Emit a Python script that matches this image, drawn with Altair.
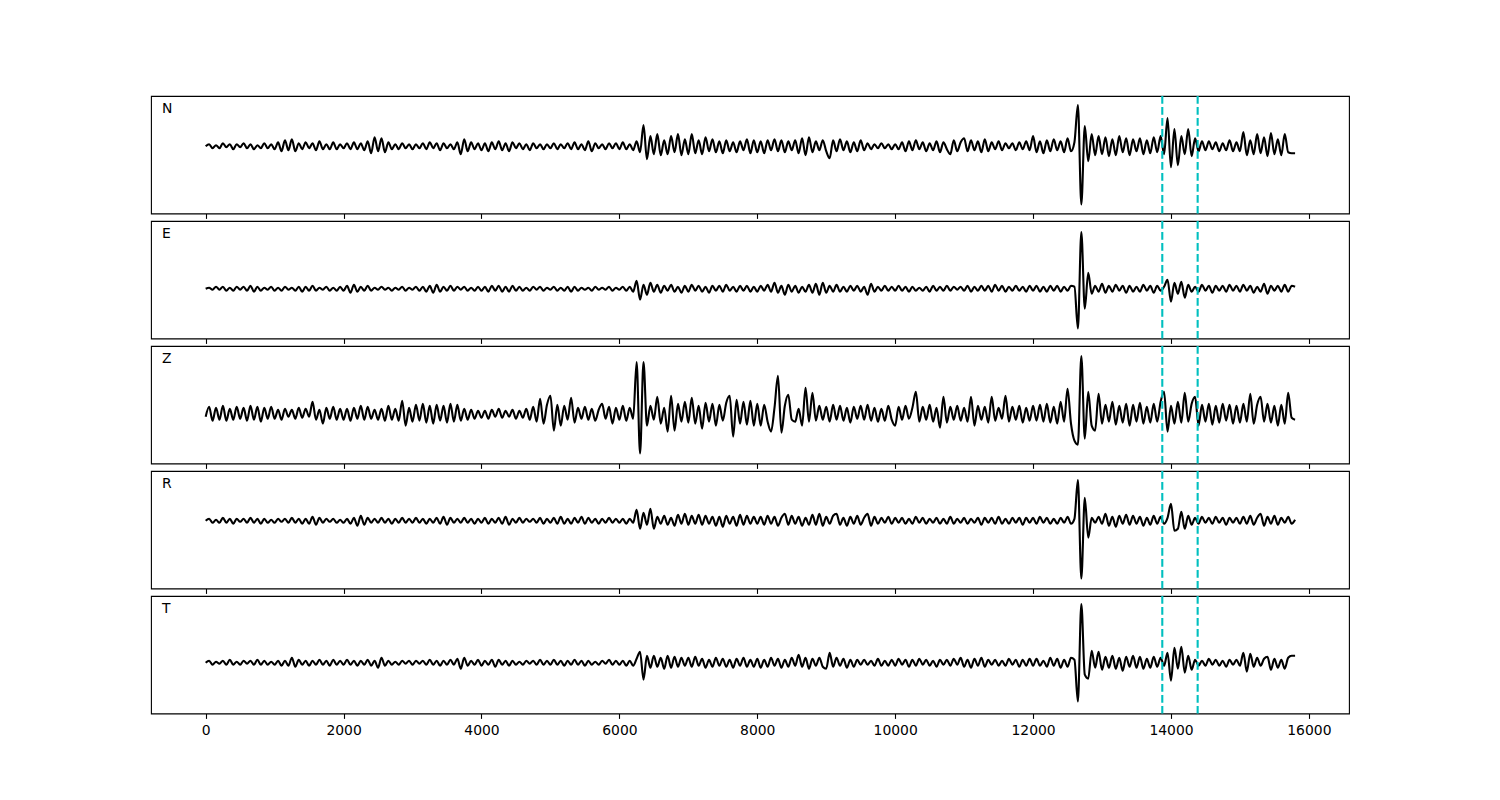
import altair as alt
import pandas as pd

# sampling interval of the traces (time units)
STEP = 50

# amplitudes (pixels-equivalent units, positive up), one row per 1000 time units
N_rows = [
    [0, 2, -2, 1, -2, 3, -1, 2, -3, 2, -1, 3, -2, 2, -3, 1, -2, 3, -2, 2],
    [-3, 4, -5, 6, -4, 7, -5, 3, -3, 4, -2, 3, -4, 5, -3, 2, -3, 4, -3, 2],
    [-2, 3, -3, 4, -3, 3, -4, 5, -7, 9, -5, 8, -6, 4, -3, 2, -3, 3, -2, 2],
    [-3, 2, -2, 3, -3, 4, -2, 3, -4, 3, -2, 2, -3, 4, -8, 7, -5, 4, -3, 3],
    [-4, 3, -5, 4, -3, 5, -4, 3, -5, 4, -2, 3, -3, 2, -4, 3, -2, 2, -3, 2],
    [-2, 3, -3, 2, -2, 3, -3, 4, -3, 2, -4, 5, -5, 3, -2, 2, -3, 3, -2, 3],
    [-3, 4, -3, 2, -4, 5, -6, 21, -13, 10, -8, 12, -9, 6, -8, 10, -6, 12, -9, 7],
    [-8, 12, -7, 6, -8, 9, -5, 7, -6, 5, -7, 6, -5, 4, -6, 5, -4, 7, -7, 6],
    [-6, 5, -7, 6, -4, 7, -5, 6, -6, 5, -4, 6, -7, 8, -9, 9, -6, 5, -4, 6],
    [-5, -12, 6, -5, 7, -4, 5, -6, 4, -5, 6, -4, 3, -3, 2, -2, 3, -2, 2, -3],
    [2, -3, 4, -5, 5, -4, 6, -3, 4, -5, 3, -4, 5, -6, 4, -3, -8, 6, -5, 4],
    [8, -5, 6, -4, 5, -6, 7, -5, 4, -3, 5, -4, 3, -2, 3, -4, 4, -3, 5, -4],
    [10, -6, 5, -7, 6, -5, 7, -4, 5, -6, 8, -5, 4, 41, -58, 20, -15, 12, -9, 10],
    [-8, 9, -10, 7, -9, 10, -6, 8, -9, 7, -5, 8, -8, 6, -7, 9, -6, 10, -8, 28],
    [-21, 17, -19, 10, -8, 17, -10, 8, -5, 5, -4, 5, -3, 4, -5, 3, -4, 6, -5, 4],
    [-5, 14, -9, 6, -8, 12, -7, 9, -10, 13, -8, 7, -9, 12, -6, -7, -7],
]
E_rows = [
    [0, 1, -1, 2, -1, 2, -2, 1, -2, 2, -1, 2, -2, 3, -3, 2, -2, 1, -1, 2],
    [-2, 1, -2, 2, -1, 1, -2, 2, -3, 2, -2, 3, -2, 1, -1, 2, -2, 1, -2, 2],
    [-2, 3, -4, 4, -3, 2, -2, 3, -2, 1, -1, 2, -1, 1, -2, 1, -1, 2, -2, 1],
    [-1, 2, -2, 2, -3, 3, -4, 4, -3, 2, -2, 3, -2, 2, -1, 2, -2, 1, -2, 2],
    [-2, 2, -3, 3, -2, 3, -3, 2, -3, 3, -2, 2, -2, 1, -2, 2, -1, 2, -2, 1],
    [-1, 2, -2, 1, -2, 2, -3, 2, -2, 1, -1, 1, -2, 2, -1, 1, -1, 2, -2, 1],
    [-1, 2, -2, 2, -3, 8, -11, 4, -6, 6, -3, 4, -4, 3, -2, 4, -3, 2, -4, 3],
    [-3, 4, -2, 3, -3, 2, -4, 3, -2, 3, -3, 4, -2, 2, -3, 3, -2, 3, -3, 2],
    [-3, 3, -2, 4, -3, 6, -4, 3, -6, 4, -3, 3, -4, 2, -3, 4, -4, 5, -6, 6],
    [-4, 3, -3, 4, -3, 2, -3, 3, -2, 3, -3, 2, -6, 5, -3, 2, -2, 3, -2, 2],
    [-2, 3, -2, 2, -3, 2, -2, 1, -2, 2, -3, 3, -2, 2, -2, 3, -2, 2, -1, 2],
    [-2, 3, -3, 2, -2, 3, -2, 3, -3, 4, -2, 3, -3, 2, -2, 3, -2, 2, -3, 3],
    [-2, 3, -3, 2, -3, 3, -2, 3, -3, 2, -2, 3, 2, -40, 57, -20, 16, -5, 3, -3],
    [5, -4, 3, -3, 4, -2, 3, -4, 3, -3, 2, -3, 4, -2, 3, -4, 3, -2, 2, 9],
    [-13, 6, -5, 7, -9, 4, -3, 2, -3, 4, -2, 3, -4, 3, -2, 3, -3, 4, -2, 3],
    [-3, 4, -2, 3, -4, 2, -3, 5, -5, 3, -2, 3, -3, 4, -3, 3, 2],
]
Z_rows = [
    [-3, 7, -7, 6, -6, 8, -7, 5, -6, 7, -5, 6, -7, 8, -6, 7, -8, 6, -5, 7],
    [-5, 4, -6, 5, -3, 4, -5, 6, -4, 5, -3, 12, -6, 4, -10, 6, -5, 7, -6, 5],
    [-6, 5, -7, 6, -5, 8, -6, 7, -5, 4, -6, 5, -7, 8, -6, 5, -7, 13, -12, 6],
    [-8, 9, -7, 10, -9, 8, -10, 9, -7, 8, -9, 10, -8, 9, -7, 5, -6, 4, -5, 3],
    [-4, 3, -5, 4, -3, 5, -4, 3, -3, 4, -5, 3, -4, 5, -6, 7, -8, 15, -10, 9],
    [18, -17, 9, -12, 8, -6, 16, -9, 6, -5, 7, -6, 5, -7, 4, 10, -5, 7, -10, 6],
    [-6, 8, -7, 6, -5, 52, -40, 52, -12, 8, -6, 17, -10, 6, -18, 18, -17, 10, -8, 12],
    [-9, 16, -10, 8, -15, 11, -8, 10, -12, 9, -7, 11, 18, -23, 14, -10, 12, -11, 13, -12],
    [10, -12, 9, -8, -18, 6, 38, -19, 8, 19, -6, -8, 5, -12, 26, -8, 21, -7, 8, -6],
    [7, -8, 9, -6, 8, -7, 6, -9, 7, -5, 8, -6, 9, -7, 6, -8, 5, -7, 8, -6],
    [-12, 7, -6, 8, -5, 6, 22, -8, 7, -6, 9, -8, 6, -14, 17, -9, 7, -6, 8, -7],
    [6, -8, 17, -12, 8, -6, 7, -9, 17, -7, 6, -5, 18, -8, 7, -6, 8, -9, 6, -7],
    [8, -7, 9, -8, 10, -9, 7, -10, 12, -8, 25, -10, -27, -31, 58, -25, 22, -12, -17, 20],
    [-10, 9, -8, 12, -11, 8, -9, 10, -12, 9, -8, 11, -10, 7, -9, 10, -8, 12, 22, -18],
    [8, -10, 12, -9, 21, -8, 10, 17, -12, 9, -8, 10, -11, 8, -9, 10, -7, 9, -10, 8],
    [-9, 10, -8, 20, -10, 9, 17, -8, 10, -9, 8, -12, 9, -10, 21, -4, -6],
]
R_rows = [
    [0, 2, -2, 1, -2, 3, -2, 2, -3, 2, -1, 2, -2, 3, -2, 2, -3, 2, -2, 1],
    [-2, 2, -1, 2, -2, 3, -2, 2, -3, 2, -3, 4, -4, 3, -2, 2, -1, 2, -2, 1],
    [-2, 2, -3, 3, -5, 5, -4, 3, -2, 2, -2, 3, -2, 2, -3, 2, -2, 3, -2, 2],
    [-2, 3, -2, 2, -3, 2, -2, 3, -3, 4, -4, 3, -2, 2, -2, 3, -2, 2, -3, 2],
    [-2, 3, -3, 2, -2, 3, -3, 4, -4, 2, -2, 3, -2, 2, -1, 2, -2, 3, -3, 2],
    [-2, 3, -3, 4, -3, 2, -3, 3, -2, 4, -3, 3, -2, 2, -3, 2, -2, 3, -2, 2],
    [-2, 2, -3, 2, -2, 11, -8, 8, -4, 12, -8, 4, -3, 5, -4, 3, -5, 6, -3, 7],
    [-4, 5, -3, 6, -4, 5, -3, 4, -5, 4, -6, 5, -3, 4, -5, 6, -4, 5, -3, 4],
    [-3, 4, -4, 5, -3, 4, -5, 3, 7, -4, 5, -3, 4, -5, 3, -4, 6, -4, 7, -5],
    [4, -3, 5, 7, -4, 3, -5, 4, -3, 5, -4, 3, 7, -5, 4, -3, 3, -2, 4, -3],
    [3, -2, 3, -3, 2, -3, 4, -2, 3, -3, 2, -2, 3, -3, 2, -3, 4, -3, 2, -2],
    [3, -3, 2, -2, 3, -4, 3, -2, 3, -3, 4, -3, 2, -3, 3, -2, 3, -4, 3, -2],
    [3, -3, 4, -2, 3, -3, 2, -3, 3, -2, 4, -3, 2, 41, -58, 23, -17, 3, -2, 4],
    [-3, 7, -5, 4, -6, 5, -3, 6, -4, 5, -3, 4, -5, 3, -4, 5, -3, 4, -3, 3],
    [17, -10, -8, 9, -8, 5, -4, 3, -3, 4, -2, 3, -3, 4, -2, 3, -4, 3, -2, 3],
    [-3, 4, -3, 5, -4, 3, 7, -5, 4, -3, 5, -4, 3, -2, 4, -3, 1],
]
T_rows = [
    [0, 2, -2, 1, -1, 2, -2, 3, -2, 1, -2, 2, -1, 2, -2, 3, -2, 2, -2, 1],
    [-2, 2, -3, 2, -3, 5, -4, 3, -2, 2, -3, 2, -2, 3, -2, 2, -3, 3, -2, 2],
    [-2, 3, -2, 2, -3, 2, -2, 3, -3, 2, -5, 5, -3, 2, -2, 1, -2, 2, -1, 2],
    [-2, 2, -1, 2, -2, 3, -2, 2, -3, 2, -2, 3, -2, 4, -6, 5, -3, 2, -2, 3],
    [-3, 2, -2, 3, -4, 3, -2, 2, -3, 2, -2, 1, -2, 2, -1, 2, -2, 3, -2, 2],
    [-2, 3, -2, 2, -3, 2, -2, 3, -2, 2, -3, 2, -2, 1, -2, 2, -1, 3, -2, 2],
    [-2, 2, -3, 2, -3, 4, 11, -17, 7, -5, 7, -4, 5, -6, 7, -5, 6, -4, 5, -3],
    [5, -4, 6, -3, 4, -5, 3, -4, 5, -3, 4, -4, 3, -5, 4, -3, 5, -4, 3, -4],
    [4, -5, 3, -4, 5, -3, 4, -5, 3, -4, 5, -3, 8, -4, 5, -6, 4, -3, 5, -4],
    [-6, 10, -4, 5, -3, 4, -5, 3, -4, 3, -2, 3, -2, 2, -3, 4, -3, 2, -3, 3],
    [-3, 4, -2, 3, -4, 3, -3, 4, -2, 3, -3, 2, -4, 3, -2, 3, -3, 4, -2, 5],
    [-4, 3, -5, 4, -3, 5, -4, 3, -2, 3, -3, 2, -3, 4, -2, 3, -4, 3, -3, 4],
    [-3, 4, -3, 2, -4, 5, -3, 4, -5, 3, -4, 5, 3, -39, 59, -12, -16, 12, -5, 11],
    [-7, 6, -5, 7, -6, 5, -8, 6, -4, 7, -5, 6, -6, 4, -5, 6, -4, 5, -3, 10],
    [-18, 15, -6, 16, -10, 7, -7, 3, -3, 2, -3, 4, -2, 3, -3, 2, -4, 3, -2, 3],
    [-3, 10, -9, 9, -4, 5, -3, 4, 6, -7, 4, -5, 3, -6, 5, 7, 7],
]

components = ["N", "E", "Z", "R", "T"]
traces = {"N": N_rows, "E": E_rows, "Z": Z_rows, "R": R_rows, "T": T_rows}
y_domains = {"N": [-67, 50], "E": [-50, 68], "Z": [-50, 68], "R": [-68, 50], "T": [-51, 67]}
picks = [13874, 14387]
x_ticks = [0, 2000, 4000, 6000, 8000, 10000, 12000, 14000, 16000]

W, H = 1198, 117.5
xscale = alt.Scale(domain=[-793, 16582], nice=False, zero=False)


def panel(name, show_labels):
    vals = [v for row in traces[name] for v in row]
    df = pd.DataFrame({"t": [i * STEP for i in range(len(vals))], "a": vals})
    axis = alt.Axis(values=x_ticks, labels=show_labels, ticks=True, domain=False, grid=False,
                    title=None, tickSize=4.9, tickWidth=1.1, tickColor="black",
                    labelFontSize=13.9, labelFont="DejaVu Sans", labelColor="black",
                    labelPadding=4.9, format="d")
    line = alt.Chart(df).mark_line(color="black", strokeWidth=2.1, clip=True,
                                   interpolate="monotone", strokeJoin="round").encode(
        x=alt.X("t:Q", scale=xscale, axis=axis),
        y=alt.Y("a:Q", scale=alt.Scale(domain=y_domains[name], nice=False, zero=False), axis=None),
    )
    rules = alt.Chart(pd.DataFrame({"t": picks})).mark_rule(
        color="#00bfbf", strokeWidth=2.1, strokeDash=[7.7, 3.3]
    ).encode(x=alt.X("t:Q", scale=xscale, axis=axis))
    label = alt.Chart(pd.DataFrame({"c": [name]})).mark_text(
        align="left", baseline="middle", fontSize=13.9, font="DejaVu Sans", color="black"
    ).encode(text="c:N", x=alt.value(11), y=alt.value(12.5))
    return alt.layer(line, rules, label).properties(width=W, height=H)


panels = [panel(c, c == "T") for c in components]

chart = alt.vconcat(*panels, spacing=7, bounds="flush").properties(
    padding={"left": 142, "top": 86, "right": 5, "bottom": 5}
).configure_view(stroke="black", strokeWidth=1.1)

chart.save("out.html", embed_options={"renderer": "svg", "actions": False})
